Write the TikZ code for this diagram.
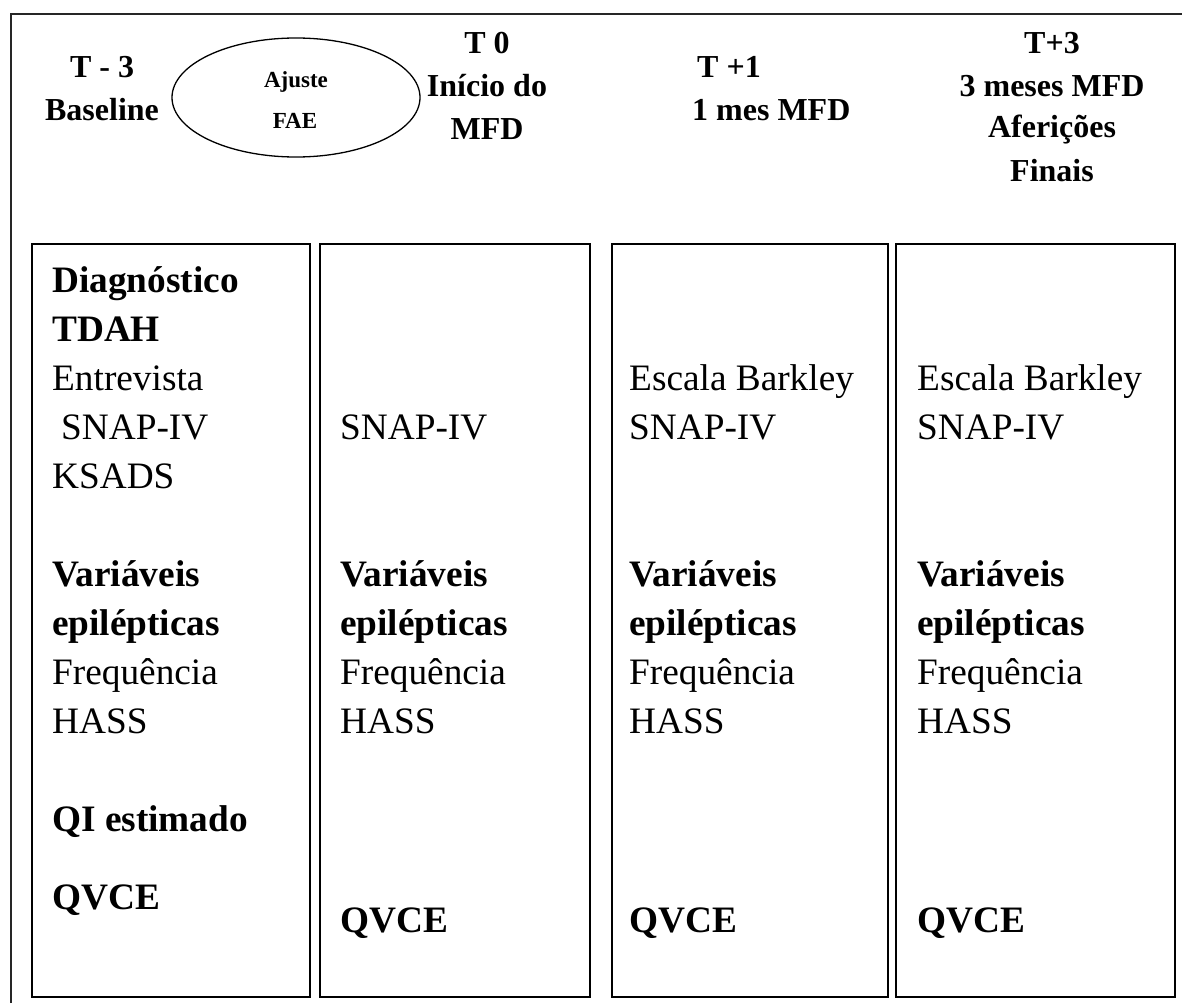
\documentclass[tikz,border=0pt]{standalone}
\usepackage{fontspec}
\setmainfont{Liberation Serif}
\usetikzlibrary{shapes.geometric}
\tikzset{
  hdr/.style={font=\fontsize{32}{43}\selectfont\bfseries, inner sep=0pt, anchor=base},
  hdrl/.style={hdr, anchor=base west},
  smallb/.style={font=\fontsize{23}{30}\selectfont\bfseries, inner sep=0pt, anchor=base},
  bodyr/.style={font=\fontsize{37.3}{49}\selectfont, inner sep=0pt, anchor=base west},
  bodyb/.style={bodyr, font=\fontsize{37.3}{49}\selectfont\bfseries},
  colbox/.style={draw=black, line width=1.5pt, inner sep=0pt, outer sep=0pt, anchor=north west, minimum height=753pt},
  frame/.style={draw=black!85, line width=1.5pt}
}
\begin{document}
\begin{tikzpicture}[x=1pt, y=-1pt]
\useasboundingbox (0,0) rectangle (1182,1003);
% outer frame (top and left sides)
\coordinate (fbl) at (11,1003);
\coordinate (ftl) at (11,14);
\coordinate (ftr) at (1182,14);
\draw[frame] (fbl) -- (ftl) -- (ftr);

% header
\node[hdr] (h1a) at (102,78) {T - 3};
\node[hdr] (h1b) at (102,121) {Baseline};
\node[draw=black, line width=1.3pt, ellipse, minimum width=248pt, minimum height=119pt, inner sep=0pt] (ell) at (296,97.5) {};
\node[smallb] (aj1) at (296,88) {Ajuste};
\node[smallb] (aj2) at (295,129) {FAE};
\node[hdr] (h2a) at (487,54) {T 0};
\node[hdr] (h2b) at (487,97) {Início do};
\node[hdr] (h2c) at (487,140) {MFD};
\node[hdrl] (h3a) at (697,78) {T +1};
\node[hdrl] (h3b) at (692,121) {1 mes MFD};
\node[hdr] (h4a) at (1052,54) {T+3};
\node[hdr] (h4b) at (1052,97) {3 meses MFD};
\node[hdr] (h4c) at (1052,138) {Aferições};
\node[hdr] (h4d) at (1052,182) {Finais};

% column boxes
\node[colbox, minimum width=278pt] (b1) at (32,244) {};
\node[colbox, minimum width=270pt] (b2) at (320,244) {};
\node[colbox, minimum width=276pt] (b3) at (612,244) {};
\node[colbox, minimum width=279pt] (b4) at (896,244) {};

% column 1
\node[bodyb] (c1a) at (52,292) {Diagnóstico};
\node[bodyb] (c1b) at (52,341) {TDAH};
\node[bodyr] (c1c) at (52,390) {Entrevista};
\node[bodyr] (c1d) at (61,439) {SNAP-IV};
\node[bodyr] (c1e) at (52,488) {KSADS};
\node[bodyb] (c1f) at (52,586) {Variáveis};
\node[bodyb] (c1g) at (52,635) {epilépticas};
\node[bodyr] (c1h) at (52,684) {Frequência};
\node[bodyr] (c1i) at (52,733) {HASS};
\node[bodyb] (c1j) at (52,831) {QI estimado};
\node[bodyb] (c1k) at (52,909) {QVCE};

% column 2
\node[bodyr] (c2a) at (340,439) {SNAP-IV};
\node[bodyb] (c2b) at (340,586) {Variáveis};
\node[bodyb] (c2c) at (340,635) {epilépticas};
\node[bodyr] (c2d) at (340,684) {Frequência};
\node[bodyr] (c2e) at (340,733) {HASS};
\node[bodyb] (c2f) at (340,932) {QVCE};

% column 3
\node[bodyr] (c3a) at (629,390) {Escala Barkley};
\node[bodyr] (c3b) at (629,439) {SNAP-IV};
\node[bodyb] (c3c) at (629,586) {Variáveis};
\node[bodyb] (c3d) at (629,635) {epilépticas};
\node[bodyr] (c3e) at (629,684) {Frequência};
\node[bodyr] (c3f) at (629,733) {HASS};
\node[bodyb] (c3g) at (629,932) {QVCE};

% column 4
\node[bodyr] (c4a) at (917,390) {Escala Barkley};
\node[bodyr] (c4b) at (917,439) {SNAP-IV};
\node[bodyb] (c4c) at (917,586) {Variáveis};
\node[bodyb] (c4d) at (917,635) {epilépticas};
\node[bodyr] (c4e) at (917,684) {Frequência};
\node[bodyr] (c4f) at (917,733) {HASS};
\node[bodyb] (c4g) at (917,932) {QVCE};
\end{tikzpicture}
\end{document}
